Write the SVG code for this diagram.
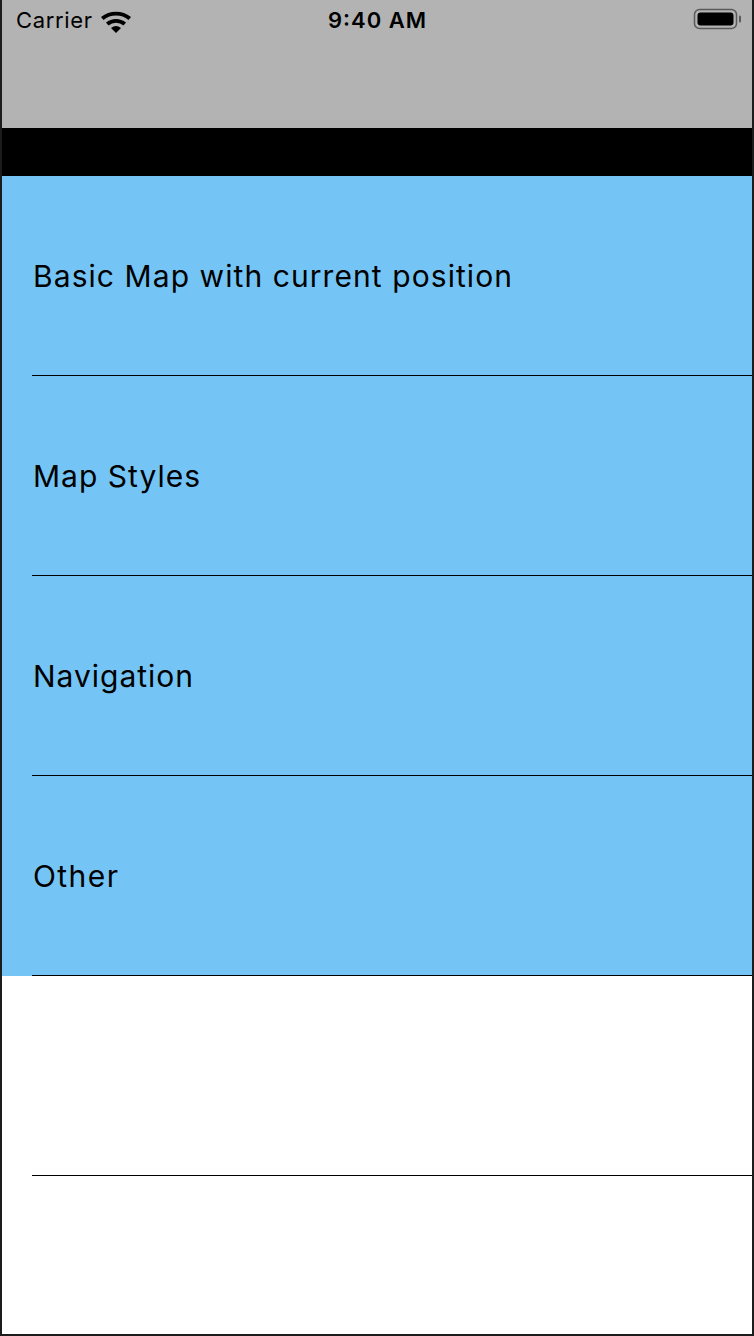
<svg xmlns="http://www.w3.org/2000/svg" width="754" height="1336" viewBox="0 0 754 1336">
<style>
.row{font-family:Inter,"Liberation Sans","Noto Sans",Arial,sans-serif;font-size:30px;fill:#000}
.sb{font-family:Inter,"Liberation Sans","Noto Sans",Arial,sans-serif;font-size:22px;fill:#000}
.sep{stroke:#000;stroke-width:1}
</style>
<rect x="0" y="0" width="754" height="1336" fill="#fff"/>
<g id="statusbar">
<rect x="0" y="0" width="754" height="128" fill="#b3b3b3"/>
<text class="sb" x="16" y="28" textLength="76">Carrier</text>
<g id="wifi" fill="#000">
<path d="M101 17 A24 24 0 0 1 131 17 L128.5 20 A20 20 0 0 0 103.5 20 Z"/>
<path d="M106 22.5 A16 16 0 0 1 126 22.5 L123.5 25.5 A12 12 0 0 0 108.5 25.5 Z"/>
<path d="M111 28 A8 8 0 0 1 121 28 L116 33 Z"/>
</g>
<text class="sb" x="328" y="28" textLength="98" font-weight="600">9:40 AM</text>
<g id="battery">
<rect x="694.5" y="9.5" width="42" height="19" rx="5" fill="none" stroke="#5a5a5a" stroke-width="1.5"/>
<rect x="697.5" y="12.5" width="36" height="13" rx="3" fill="#000"/>
<rect x="739" y="15.5" width="2" height="7" rx="1" fill="#5a5a5a"/>
</g>
</g>
<rect id="navbar" x="0" y="128" width="754" height="48" fill="#000"/>
<rect id="listbg" x="0" y="176" width="754" height="800" fill="#74c5f5"/>
<g id="row1"><text class="row" x="33" y="287" textLength="479">Basic Map with current position</text></g>
<g id="row2"><text class="row" x="33" y="487" textLength="167">Map Styles</text></g>
<g id="row3"><text class="row" x="33" y="687" textLength="160">Navigation</text></g>
<g id="row4"><text class="row" x="33" y="887" textLength="85">Other</text></g>
<g id="separators">
<line class="sep" x1="32" y1="375.5" x2="754" y2="375.5"/>
<line class="sep" x1="32" y1="575.5" x2="754" y2="575.5"/>
<line class="sep" x1="32" y1="775.5" x2="754" y2="775.5"/>
<line class="sep" x1="32" y1="975.5" x2="754" y2="975.5"/>
<line class="sep" x1="32" y1="1175.5" x2="754" y2="1175.5"/>
</g>
<g id="frame" fill="#1c1c1c">
<rect x="0" y="0" width="2" height="1336"/>
<rect x="752" y="0" width="2" height="1336"/>
<rect x="0" y="1334" width="754" height="2"/>
</g>
</svg>
